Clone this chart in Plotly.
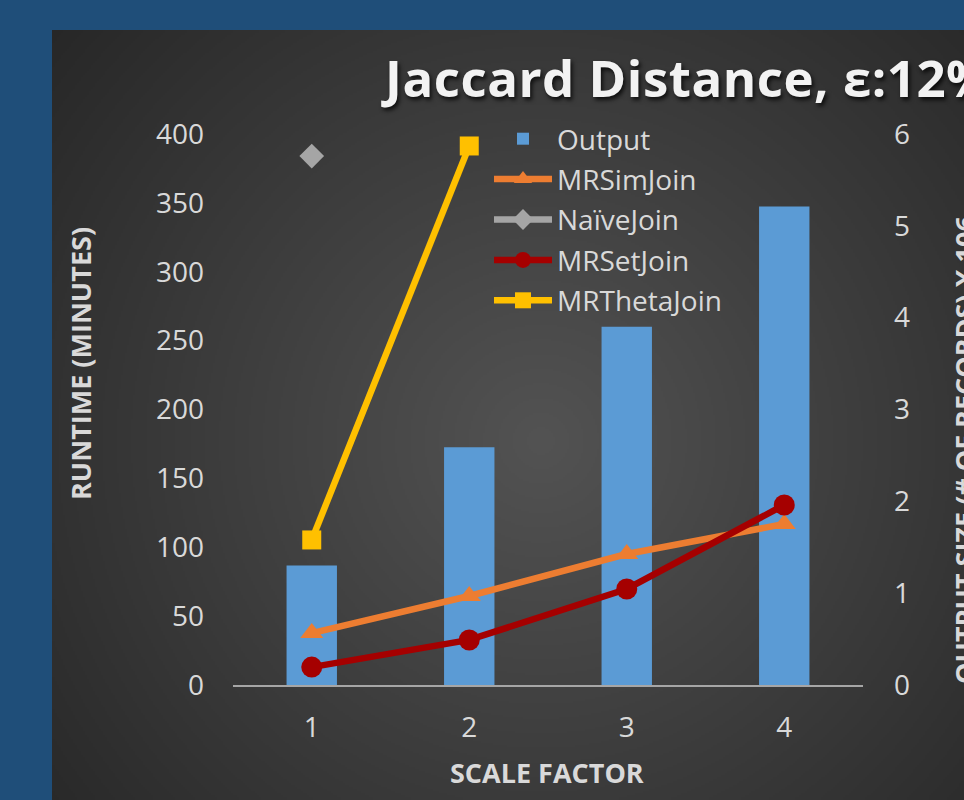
import base64, struct, zlib
import numpy as np
import plotly.graph_objects as go

# ---- data ----
scale_factor = ["1", "2", "3", "4"]
output_size = [1.30, 2.59, 3.90, 5.21]          # x 10^6 records (right axis)
mrsimjoin = [37.7, 64.6, 95.1, 116.9]           # minutes
naivejoin = [384, None, None, None]
mrsetjoin = [13, 32.7, 69.7, 130.7]
mrthetajoin = [105.3, 391.3, None, None]

W, H = 964, 800
L, R, T, B = 233, 101, 134, 115
PW, PH = W - L - R, H - T - B


def px2x(px):
    return (px - L) / PW


def px2y(py):
    return (H - B - py) / PH


# ---- radial gradient background panel (PNG data URI) ----
def make_png(arr):
    h, w, _ = arr.shape
    raw = b"".join(b"\x00" + arr[i].tobytes() for i in range(h))

    def chunk(tag, data):
        c = struct.pack(">I", len(data)) + tag + data
        return c + struct.pack(">I", zlib.crc32(tag + data) & 0xFFFFFFFF)

    png = b"\x89PNG\r\n\x1a\n"
    png += chunk(b"IHDR", struct.pack(">IIBBBBB", w, h, 8, 2, 0, 0, 0))
    png += chunk(b"IDAT", zlib.compress(raw, 9))
    png += chunk(b"IEND", b"")
    return "data:image/png;base64," + base64.b64encode(png).decode()


x0p, y0p = 52, 30
gw, gh = (W - x0p) // 2, (H - y0p) // 2
yy, xx = np.mgrid[0:gh, 0:gw]
X = x0p + xx * 2.0
Y = y0p + yy * 2.0
cx, cy, rad = 540.0, 440.0, 660.0
t = np.clip(np.sqrt((X - cx) ** 2 + (Y - cy) ** 2) / rad, 0, 1)
inner, outer = 83.0, 38.0
val = (inner + (outer - inner) * t).astype(np.uint8)
img = np.stack([val, val, val], axis=-1)
bg_uri = make_png(img)

fig = go.Figure()

fig.add_trace(go.Bar(
    x=scale_factor, y=output_size, name="Output", yaxis="y",
    marker=dict(color="#5b9bd5", line=dict(width=0)), width=0.32,
    legendgroup="a",
))
fig.add_trace(go.Scatter(
    x=scale_factor, y=mrsimjoin, name="MRSimJoin", mode="lines+markers",
    yaxis="y2", line=dict(color="#ed7d31", width=6.5),
    marker=dict(symbol="triangle-up", size=20, color="#ed7d31"),
    legendgroup="b",
))
fig.add_trace(go.Scatter(
    x=scale_factor, y=naivejoin, name="NaïveJoin", mode="lines+markers",
    yaxis="y2", line=dict(color="#a5a5a5", width=6.5),
    marker=dict(symbol="diamond", size=19, color="#a5a5a5"),
    legendgroup="c",
))
fig.add_trace(go.Scatter(
    x=scale_factor, y=mrsetjoin, name="MRSetJoin", mode="lines+markers",
    yaxis="y2", line=dict(color="#a50000", width=6.5),
    marker=dict(symbol="circle", size=21, color="#a50000"),
    legendgroup="d",
))
fig.add_trace(go.Scatter(
    x=scale_factor, y=mrthetajoin, name="MRThetaJoin", mode="lines+markers",
    yaxis="y2", line=dict(color="#ffc000", width=6.5),
    marker=dict(symbol="square", size=19, color="#ffc000"),
    legendgroup="e",
))

tick_font = dict(family="Open Sans", size=28, color="#d9d9d9")
title_font = dict(family="Open Sans", size=27, color="#d9d9d9", weight="bold")

fig.update_layout(
    width=W, height=H,
    margin=dict(l=L, r=R, t=T, b=B, pad=0),
    paper_bgcolor="#1f4e79",
    plot_bgcolor="rgba(0,0,0,0)",
    showlegend=True,
    legend=dict(
        x=px2x(489), y=px2y(114), xanchor="left", yanchor="top",
        bgcolor="rgba(0,0,0,0)", font=dict(family="Open Sans", size=28, color="#d9d9d9"),
        tracegroupgap=1, itemwidth=58,
    ),
    xaxis=dict(
        type="category", range=[-0.5, 3.5], showgrid=False, zeroline=False,
        showline=True, linecolor="#a6a6a6", linewidth=2, ticks="",
        tickfont=tick_font, ticklabelstandoff=16, fixedrange=True,
    ),
    # bars: right axis (output size)
    yaxis=dict(
        range=[0, 6], dtick=1, side="right", showgrid=False,
        zeroline=False, showline=False, ticks="", tickfont=tick_font,
        ticklabelstandoff=30,
    ),
    # lines: left axis (runtime), overlaid so lines draw above bars
    yaxis2=dict(
        range=[0, 400], dtick=50, overlaying="y", side="left", showgrid=False,
        zeroline=False, showline=False, ticks="", tickfont=tick_font,
        ticklabelstandoff=28,
    ),
    images=[dict(
        source=bg_uri, xref="paper", yref="paper",
        x=px2x(x0p), y=px2y(y0p), sizex=(W - x0p) / PW, sizey=(H - y0p) / PH,
        xanchor="left", yanchor="top", sizing="stretch", layer="below",
    )],
    annotations=[
        dict(text='<span style="letter-spacing:0.5px">Jaccard Distance, ε:12%</span>',
             xref="paper", yref="paper",
             x=px2x(379), y=px2y(77), xanchor="left", yanchor="middle",
             showarrow=False,
             font=dict(family="Open Sans", size=51, color="#f2f2f2", weight="bold",
                       shadow="2px 3px 4px rgba(0,0,0,0.75)")),
        dict(text="RUNTIME (MINUTES)", xref="paper", yref="paper",
             x=px2x(80), y=px2y(364), xanchor="center", yanchor="middle",
             textangle=-90, showarrow=False, font=title_font),
        dict(text="OUTPUT SIZE (# OF RECORDS) X 106", xref="paper", yref="paper",
             x=px2x(964), y=px2y(450), xanchor="center", yanchor="middle",
             textangle=-90, showarrow=False, font=title_font),
        dict(text="SCALE FACTOR", xref="paper", yref="paper",
             x=px2x(547), y=px2y(772), xanchor="center", yanchor="middle",
             showarrow=False, font=title_font),
    ],
)

fig.write_html("out.html")
